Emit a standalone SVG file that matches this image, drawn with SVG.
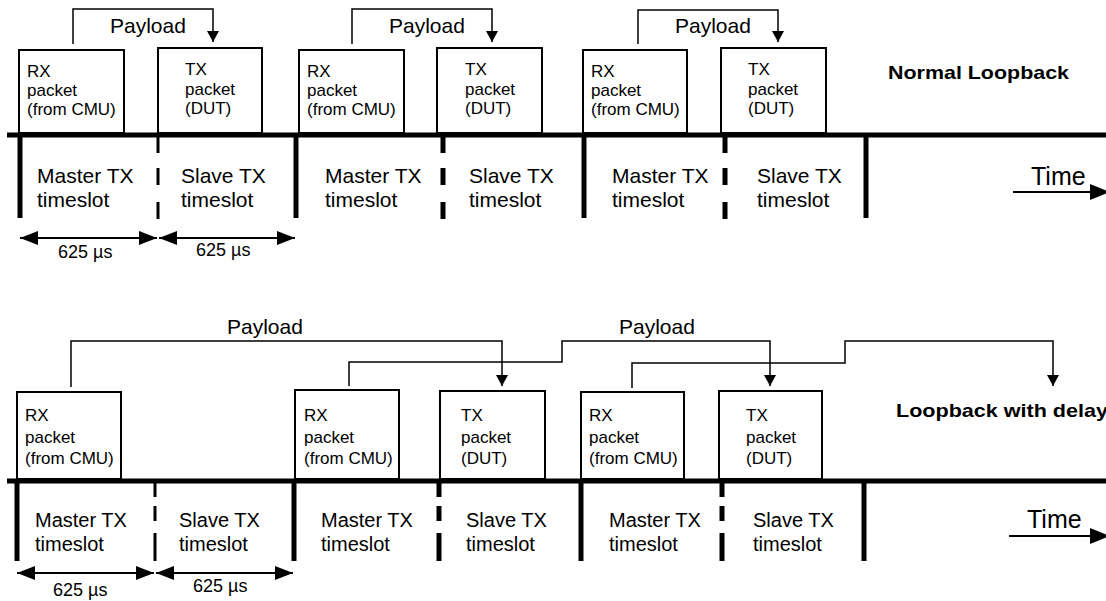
<svg xmlns="http://www.w3.org/2000/svg" width="1106" height="601" viewBox="0 0 1106 601">
<style>
text{font-family:"Liberation Sans",Arial,sans-serif;fill:#000}
.box rect{fill:#fff;stroke:#000;stroke-width:2}
.bt{font-size:17px}
.pl{font-size:21px}
.slot{font-size:21px}
.slot2{font-size:20px}
.dim{font-size:18px}
.title{font-size:19px;font-weight:bold}
.time{font-size:25px}
.axis{stroke:#000;stroke-width:5;fill:none}
.thin{stroke:#000;stroke-width:3;fill:none}
.conn{stroke:#000;stroke-width:1.5;fill:none}
.dl{stroke:#000;stroke-width:2;fill:none}
</style>
<defs>
<marker id="pa" markerUnits="userSpaceOnUse" markerWidth="11" markerHeight="12" refX="11" refY="6" orient="auto"><path d="M0,0 L11,6 L0,12 z" fill="#000"/></marker>
<marker id="da" markerUnits="userSpaceOnUse" markerWidth="18" markerHeight="14" refX="18" refY="7" orient="auto-start-reverse"><path d="M0,0 L18,7 L0,14 z" fill="#000"/></marker>
<marker id="ta" markerUnits="userSpaceOnUse" markerWidth="20" markerHeight="16" refX="20" refY="8" orient="auto"><path d="M0,0 L20,8 L0,16 z" fill="#000"/></marker>
</defs>

<!-- ===== Top: Normal Loopback ===== -->
<g id="top-axis">
<line class="axis" x1="7" y1="135" x2="1106" y2="135"/>
<line class="axis" x1="20" y1="133" x2="20" y2="218"/>
<line class="axis" x1="296" y1="133" x2="296" y2="218"/>
<line class="axis" x1="584" y1="133" x2="584" y2="218"/>
<line class="axis" x1="866" y1="133" x2="866" y2="218"/>
<path class="thin" d="M158,137V153M158,168V185M158,202V219"/>
<path class="axis" d="M443,137V153M443,168V185M443,202V219"/>
<path class="axis" d="M725,137V153M725,168V185M725,202V219"/>
</g>

<g id="top-rx1" class="box"><rect x="19" y="50" width="105" height="83"/>
<text class="bt" x="27" y="77">RX</text><text class="bt" x="27" y="96">packet</text><text class="bt" x="27" y="115">(from CMU)</text></g>
<g id="top-tx1" class="box"><rect x="158" y="48" width="104" height="85"/>
<text class="bt" x="185" y="75">TX</text><text class="bt" x="185" y="95">packet</text><text class="bt" x="185" y="114">(DUT)</text></g>
<g id="top-rx2" class="box"><rect x="299" y="50" width="105" height="83"/>
<text class="bt" x="307" y="77">RX</text><text class="bt" x="307" y="96">packet</text><text class="bt" x="307" y="115">(from CMU)</text></g>
<g id="top-tx2" class="box"><rect x="437" y="48" width="105" height="85"/>
<text class="bt" x="465" y="75">TX</text><text class="bt" x="465" y="95">packet</text><text class="bt" x="465" y="114">(DUT)</text></g>
<g id="top-rx3" class="box"><rect x="583" y="50" width="104" height="83"/>
<text class="bt" x="591" y="77">RX</text><text class="bt" x="591" y="96">packet</text><text class="bt" x="591" y="115">(from CMU)</text></g>
<g id="top-tx3" class="box"><rect x="721" y="48" width="105" height="85"/>
<text class="bt" x="748" y="75">TX</text><text class="bt" x="748" y="95">packet</text><text class="bt" x="748" y="114">(DUT)</text></g>

<g id="top-slots">
<text class="slot" x="37" y="183">Master TX</text><text class="slot" x="37" y="207">timeslot</text>
<text class="slot" x="181" y="183">Slave TX</text><text class="slot" x="181" y="207">timeslot</text>
<text class="slot" x="325" y="183">Master TX</text><text class="slot" x="325" y="207">timeslot</text>
<text class="slot" x="469" y="183">Slave TX</text><text class="slot" x="469" y="207">timeslot</text>
<text class="slot" x="612" y="183">Master TX</text><text class="slot" x="612" y="207">timeslot</text>
<text class="slot" x="757" y="183">Slave TX</text><text class="slot" x="757" y="207">timeslot</text>
</g>

<g id="top-labels">
<text class="pl" x="110" y="33">Payload</text>
<text class="pl" x="389" y="33">Payload</text>
<text class="pl" x="675" y="33">Payload</text>
<text class="title" x="888" y="79" textLength="181" lengthAdjust="spacingAndGlyphs">Normal Loopback</text>
<text class="time" x="1031" y="185">Time</text>
<text class="dim" x="58" y="258">625 µs</text>
<text class="dim" x="196" y="256">625 µs</text>
</g>

<!-- ===== Bottom: Loopback with delay ===== -->
<g id="bot-axis">
<line class="axis" x1="7" y1="481" x2="1106" y2="481"/>
<line class="axis" x1="17" y1="479" x2="17" y2="561"/>
<line class="axis" x1="294" y1="479" x2="294" y2="561"/>
<line class="axis" x1="581" y1="479" x2="581" y2="561"/>
<line class="axis" x1="864" y1="479" x2="864" y2="561"/>
<path class="thin" d="M155,483V497M155,506V521M155,533V561"/>
<path class="axis" d="M439,483V497M439,506V521M439,533V561"/>
<path class="axis" d="M722,483V497M722,506V521M722,533V561"/>
</g>

<g id="bot-rx1" class="box"><rect x="17" y="392" width="104" height="87"/>
<text class="bt" x="25" y="421">RX</text><text class="bt" x="25" y="443">packet</text><text class="bt" x="25" y="464">(from CMU)</text></g>
<g id="bot-rx2" class="box"><rect x="295" y="390" width="104" height="89"/>
<text class="bt" x="304" y="421">RX</text><text class="bt" x="304" y="443">packet</text><text class="bt" x="304" y="464">(from CMU)</text></g>
<g id="bot-tx2" class="box"><rect x="440" y="391" width="105" height="88"/>
<text class="bt" x="461" y="421">TX</text><text class="bt" x="461" y="443">packet</text><text class="bt" x="461" y="464">(DUT)</text></g>
<g id="bot-rx3" class="box"><rect x="581" y="392" width="103" height="87"/>
<text class="bt" x="589" y="421">RX</text><text class="bt" x="589" y="443">packet</text><text class="bt" x="589" y="464">(from CMU)</text></g>
<g id="bot-tx3" class="box"><rect x="719" y="391" width="103" height="88"/>
<text class="bt" x="746" y="421">TX</text><text class="bt" x="746" y="443">packet</text><text class="bt" x="746" y="464">(DUT)</text></g>

<g id="bot-slots">
<text class="slot2" x="35" y="527">Master TX</text><text class="slot2" x="35" y="551">timeslot</text>
<text class="slot2" x="179" y="527">Slave TX</text><text class="slot2" x="179" y="551">timeslot</text>
<text class="slot2" x="321" y="527">Master TX</text><text class="slot2" x="321" y="551">timeslot</text>
<text class="slot2" x="466" y="527">Slave TX</text><text class="slot2" x="466" y="551">timeslot</text>
<text class="slot2" x="609" y="527">Master TX</text><text class="slot2" x="609" y="551">timeslot</text>
<text class="slot2" x="753" y="527">Slave TX</text><text class="slot2" x="753" y="551">timeslot</text>
</g>

<g id="bot-labels">
<text class="pl" x="227" y="334">Payload</text>
<text class="pl" x="619" y="334">Payload</text>
<text class="title" x="896" y="417" textLength="212" lengthAdjust="spacingAndGlyphs">Loopback with delay</text>
<text class="time" x="1027" y="528">Time</text>
<text class="dim" x="53" y="596">625 µs</text>
<text class="dim" x="193" y="592">625 µs</text>
</g>

<g id="connectors">
<path class="conn" d="M73,44V9H213V42" marker-end="url(#pa)"/>
<path class="conn" d="M352,44V9H492V42" marker-end="url(#pa)"/>
<path class="conn" d="M638,44V10H778V42" marker-end="url(#pa)"/>
<path class="conn" d="M71,387V341H502V386" marker-end="url(#pa)"/>
<path class="conn" d="M349,386V362H562V341H770V386" marker-end="url(#pa)"/>
<path class="conn" d="M632,388V363H845V341H1053V386" marker-end="url(#pa)"/>
<line class="dl" x1="20" y1="238" x2="157" y2="238" marker-start="url(#da)" marker-end="url(#da)"/>
<line class="dl" x1="159" y1="238" x2="295" y2="238" marker-start="url(#da)" marker-end="url(#da)"/>
<line class="dl" x1="17" y1="573" x2="154" y2="573" marker-start="url(#da)" marker-end="url(#da)"/>
<line class="dl" x1="156" y1="573" x2="293" y2="573" marker-start="url(#da)" marker-end="url(#da)"/>
<line class="dl" x1="1013" y1="192" x2="1110" y2="192" marker-end="url(#ta)"/>
<line class="dl" x1="1009" y1="536" x2="1110" y2="536" marker-end="url(#ta)"/>
</g>
</svg>
